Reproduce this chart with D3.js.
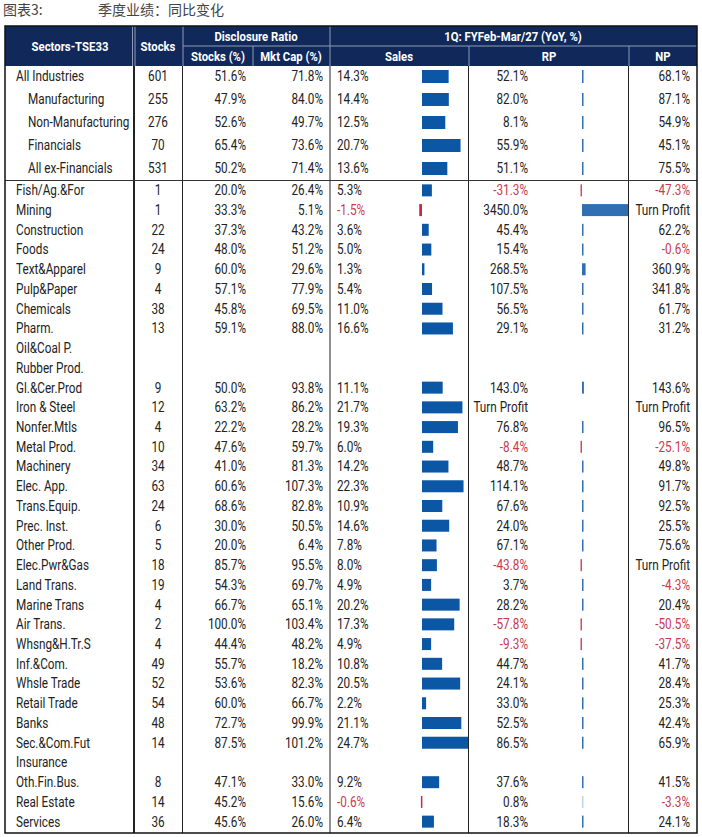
<!DOCTYPE html>
<html>
<head>
<meta charset="utf-8">
<script src="https://cdn.jsdelivr.net/npm/d3@7"></script>
<style>
  body { margin: 0; background: #fff; }
  svg text { font-family: Roboto, 'Noto Sans', sans-serif; }
</style>
</head>
<body>
<div id="chart"></div>
<script>
// summary rows (top block)
var summaryNames = ["All Industries", "Manufacturing", "Non-Manufacturing", "Financials", "All ex-Financials"];
var summaryIndent = [false, true, true, true, true];
var summaryStocks = [601, 255, 276, 70, 531];
var summaryRatioStocks = [51.6, 47.9, 52.6, 65.4, 50.2];
var summaryRatioCap = [71.8, 84.0, 49.7, 73.6, 71.4];
var summarySales = [14.3, 14.4, 12.5, 20.7, 13.6];
var summaryRP = [52.1, 82.0, 8.1, 55.9, 51.1];
var summaryNP = [68.1, 87.1, 54.9, 45.1, 75.5];

// TSE33 sectors (null = no data, "TP" = Turn Profit)
var sectorNames = ["Fish/Ag.&For", "Mining", "Construction", "Foods", "Text&Apparel", "Pulp&Paper",
  "Chemicals", "Pharm.", "Oil&Coal P.", "Rubber Prod.", "Gl.&Cer.Prod", "Iron & Steel",
  "Nonfer.Mtls", "Metal Prod.", "Machinery", "Elec. App.", "Trans.Equip.", "Prec. Inst.",
  "Other Prod.", "Elec.Pwr&Gas", "Land Trans.", "Marine Trans", "Air Trans.", "Whsng&H.Tr.S",
  "Inf.&Com.", "Whsle Trade", "Retail Trade", "Banks", "Sec.&Com.Fut", "Insurance",
  "Oth.Fin.Bus.", "Real Estate", "Services"];
var sectorStocks = [1, 1, 22, 24, 9, 4, 38, 13, null, null, 9, 12, 4, 10, 34, 63, 24, 6, 5, 18, 19, 4, 2, 4,
  49, 52, 54, 48, 14, null, 8, 14, 36];
var sectorRatioStocks = [20.0, 33.3, 37.3, 48.0, 60.0, 57.1, 45.8, 59.1, null, null, 50.0, 63.2, 22.2, 47.6,
  41.0, 60.6, 68.6, 30.0, 20.0, 85.7, 54.3, 66.7, 100.0, 44.4, 55.7, 53.6, 60.0, 72.7, 87.5, null,
  47.1, 45.2, 45.6];
var sectorRatioCap = [26.4, 5.1, 43.2, 51.2, 29.6, 77.9, 69.5, 88.0, null, null, 93.8, 86.2, 28.2, 59.7,
  81.3, 107.3, 82.8, 50.5, 6.4, 95.5, 69.7, 65.1, 103.4, 48.2, 18.2, 82.3, 66.7, 99.9, 101.2, null,
  33.0, 15.6, 26.0];
var sectorSales = [5.3, -1.5, 3.6, 5.0, 1.3, 5.4, 11.0, 16.6, null, null, 11.1, 21.7, 19.3, 6.0, 14.2,
  22.3, 10.9, 14.6, 7.8, 8.0, 4.9, 20.2, 17.3, 4.9, 10.8, 20.5, 2.2, 21.1, 24.7, null, 9.2, -0.6, 6.4];
var sectorRP = [-31.3, 3450.0, 45.4, 15.4, 268.5, 107.5, 56.5, 29.1, null, null, 143.0, "TP", 76.8, -8.4,
  48.7, 114.1, 67.6, 24.0, 67.1, -43.8, 3.7, 28.2, -57.8, -9.3, 44.7, 24.1, 33.0, 52.5, 86.5, null,
  37.6, 0.8, 18.3];
var sectorNP = [-47.3, "TP", 62.2, -0.6, 360.9, 341.8, 61.7, 31.2, null, null, 143.6, "TP", 96.5, -25.1,
  49.8, 91.7, 92.5, 25.5, 75.6, "TP", -4.3, 20.4, -50.5, -37.5, 41.7, 28.4, 25.3, 42.4, 65.9, null,
  41.5, -3.3, 24.1];

var W = 702, H = 837;
var navy = "#10295a", blue = "#0b56a5", red = "#cf2a3c", redText = "#c83a4e", ink = "#222";
var sx = 0.84; // condensed look

var svg = d3.select("#chart").append("svg")
  .attr("width", W).attr("height", H);

// build row records
var rows = [];
summaryNames.forEach(function(n, i) {
  rows.push({ group: "top", key: "s" + i, name: n, indent: summaryIndent[i], stocks: summaryStocks[i],
    rs: summaryRatioStocks[i], rc: summaryRatioCap[i], sales: summarySales[i], rp: summaryRP[i], np: summaryNP[i] });
});
sectorNames.forEach(function(n, i) {
  rows.push({ group: "sec", key: "t" + i, name: n, indent: false, stocks: sectorStocks[i],
    rs: sectorRatioStocks[i], rc: sectorRatioCap[i], sales: sectorSales[i], rp: sectorRP[i], np: sectorNP[i] });
});

// row scales
var yTop = d3.scaleBand().domain(rows.filter(d => d.group == "top").map(d => d.key)).range([65, 180]);
var ySec = d3.scaleBand().domain(rows.filter(d => d.group == "sec").map(d => d.key)).range([180.5, 831.5]);
function rowY(d) { return d.group == "top" ? yTop(d.key) + yTop.bandwidth() / 2 : ySec(d.key) + ySec.bandwidth() / 2; }

// bar scales
var salesX = d3.scaleLinear().domain([0, 24.7]).range([422, 468]);
var rpX = d3.scaleLinear().domain([0, 3450]).range([582, 628]);

function place(x, y) { return `translate(${x},${y}) scale(${sx},1)`; }

// title
svg.append("text").attr("x", 3).attr("y", 15).attr("font-size", "14px").attr("fill", "#444")
  .style("font-family", "'Noto Sans CJK SC', sans-serif").text("图表3:");
svg.append("text").attr("x", 98).attr("y", 15).attr("font-size", "14px").attr("fill", "#444")
  .style("font-family", "'Noto Sans CJK SC', sans-serif").text("季度业绩：同比变化");

// header background
var tL = 5, tR = 697, tT = 26, hB = 66, tB = 833;
svg.append("rect").attr("x", tL).attr("y", tT).attr("width", tR - tL).attr("height", hB - tT).attr("fill", navy);

var hdrLine = "#8f9bb5";
function hline(x1, x2, y, c, w) {
  svg.append("line").attr("x1", x1).attr("x2", x2).attr("y1", y).attr("y2", y).attr("stroke", c).attr("stroke-width", w);
}
function vline(x, y1, y2, c, w) {
  svg.append("line").attr("x1", x).attr("x2", x).attr("y1", y1).attr("y2", y2).attr("stroke", c).attr("stroke-width", w);
}

// header grid
hline(183, tR, 46, hdrLine, 1);
vline(132.5, tT, hB, hdrLine, 1);
vline(135, tT, hB, hdrLine, 1);
vline(183, tT, hB, hdrLine, 1);
vline(330, tT, hB, hdrLine, 1);
vline(253, 46, hB, hdrLine, 1);
vline(469, 46, hB, hdrLine, 1);
vline(629, 46, hB, hdrLine, 1);

// header labels
var headers = [
  { t: "Sectors-TSE33", x: 70, y: 46 },
  { t: "Stocks", x: 158, y: 46 },
  { t: "Disclosure Ratio", x: 256, y: 36 },
  { t: "1Q: FYFeb-Mar/27 (YoY, %)", x: 513, y: 36 },
  { t: "Stocks (%)", x: 218, y: 56.5 },
  { t: "Mkt Cap (%)", x: 291, y: 56.5 },
  { t: "Sales", x: 399, y: 56.5 },
  { t: "RP", x: 549, y: 56.5 },
  { t: "NP", x: 663, y: 56.5 }
];
svg.append("g").selectAll("text").data(headers).enter().append("text")
  .attr("transform", d => place(d.x, d.y))
  .attr("text-anchor", "middle").attr("dominant-baseline", "central")
  .attr("font-size", "13.5px").attr("font-weight", "bold").attr("fill", "#fff")
  .text(d => d.t);

// body grid
vline(134, hB, tB, "#222", 2);
vline(182.5, hB, tB, "#222", 1);
vline(330, hB, tB, "#222", 1);
vline(468.5, hB, tB, "#222", 1);
vline(628.5, hB, tB, "#222", 1);
hline(tL, tR, 180.5, "#333", 1.2);

// outer border
svg.append("rect").attr("x", tL).attr("y", tT).attr("width", tR - tL).attr("height", tB - tT)
  .attr("fill", "none").attr("stroke", "#111").attr("stroke-width", 1.5);

function pct(v) { return v.toFixed(1) + "%"; }
function fmt(v) { return v == "TP" ? "Turn Profit" : pct(v); }
function col(v) { return (typeof v == "number" && v < 0) ? redText : ink; }

var body = svg.append("g").attr("font-size", "14px");

// sector names
body.selectAll(".name").data(rows).enter().append("text")
  .attr("transform", d => place(d.indent ? 28 : 16, rowY(d)))
  .attr("dominant-baseline", "central").attr("fill", ink)
  .text(d => d.name);

function numCol(field, x, anchor, f) {
  body.selectAll(".c-" + field).data(rows.filter(d => d[field] != null)).enter().append("text")
    .attr("transform", d => place(x, rowY(d)))
    .attr("text-anchor", anchor).attr("dominant-baseline", "central")
    .attr("fill", d => col(d[field]))
    .text(d => f(d[field]));
}
numCol("stocks", 158, "middle", v => v);
numCol("rs", 246, "end", pct);
numCol("rc", 323, "end", pct);
numCol("sales", 337, "start", pct);
numCol("rp", 528, "end", fmt);
numCol("np", 690, "end", fmt);

// sales bars
var barH = d => d.group == "top" ? 13 : 12;
body.selectAll(".sbar").data(rows.filter(d => typeof d.sales == "number")).enter().append("rect")
  .attr("x", d => Math.min(salesX(0), salesX(d.sales)))
  .attr("width", d => Math.max(1.5, Math.abs(salesX(d.sales) - salesX(0))))
  .attr("y", d => rowY(d) - barH(d) / 2).attr("height", barH)
  .attr("fill", d => d.sales < 0 ? red : blue);

// RP bars
body.selectAll(".rbar").data(rows.filter(d => typeof d.rp == "number")).enter().append("rect")
  .attr("x", d => d.rp < 0 ? rpX(0) - 1.5 : rpX(0))
  .attr("width", d => Math.max(1.5, Math.abs(rpX(d.rp) - rpX(0))))
  .attr("y", d => rowY(d) - barH(d) / 2).attr("height", barH)
  .attr("fill", d => d.rp < 0 ? red : blue)
  .attr("opacity", d => Math.abs(d.rp) < 1 ? 0.25 : 0.85);
</script>
</body>
</html>
